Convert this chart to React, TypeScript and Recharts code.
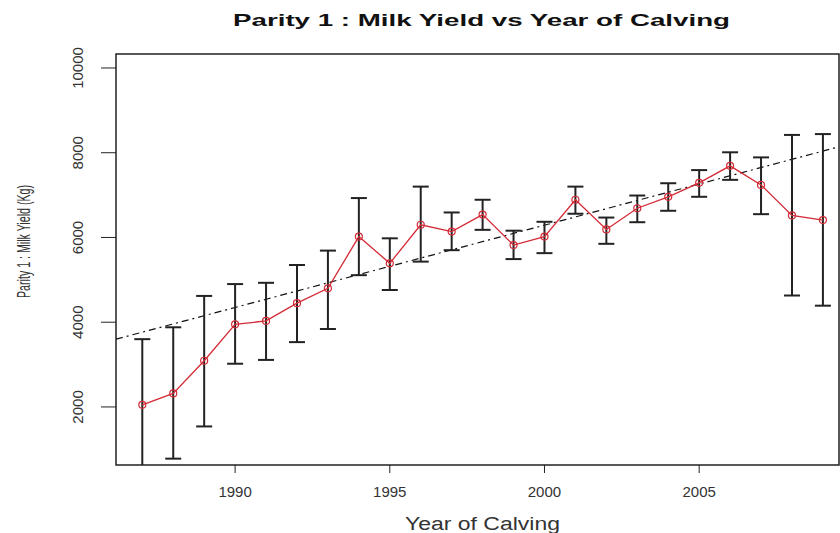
import { LineChart, Line, XAxis, YAxis, ErrorBar, ReferenceArea } from 'recharts'

const years = [1987, 1988, 1989, 1990, 1991, 1992, 1993, 1994, 1995, 1996, 1997, 1998, 1999, 2000, 2001, 2002, 2003, 2004, 2005, 2006, 2007, 2008, 2009]
const meanYield = [2050, 2320, 3090, 3950, 4030, 4450, 4800, 6020, 5390, 6300, 6140, 6540, 5820, 6020, 6890, 6190, 6690, 6960, 7290, 7690, 7240, 6520, 6410]
const lowerLimit = [500, 780, 1540, 3020, 3110, 3530, 3840, 5110, 4760, 5430, 5700, 6180, 5490, 5630, 6560, 5850, 6360, 6630, 6960, 7360, 6550, 4630, 4390]
const upperLimit = [3600, 3880, 4620, 4900, 4930, 5350, 5690, 6930, 5980, 7200, 6590, 6890, 6160, 6370, 7200, 6470, 6990, 7280, 7590, 8010, 7890, 8420, 8440]

// fitted trend, read at the left and right edges of the plot
const trendYears = [1986.15, 2009.52]
const trendYield = [3600, 8140]

const xTicks = [1990, 1995, 2000, 2005]
const yTicks = [2000, 4000, 6000, 8000, 10000]
const xDomain = [1986.15, 2009.52]
const yDomain = [630, 10330]

const rows = years.map((year, i) => ({
  year,
  yield: meanYield[i],
  err: [meanYield[i] - lowerLimit[i], upperLimit[i] - meanYield[i]],
}))
const trendRows = trendYears.map((year, i) => ({ year, trend: trendYield[i] }))

const font = '"Liberation Sans", Arial, sans-serif'

function YTick({ x, y, payload }: any) {
  return (
    <text x={x} y={y} transform={`rotate(-90 ${x} ${y})`} textAnchor="middle"
      fontSize={15} fill="#333" fontFamily={font}>
      {payload.value}
    </text>
  )
}

export default function App() {
  return (
    <div style={{ position: 'relative', width: 840, height: 533, background: '#fff' }}>
      <style>{'body{margin:0} .recharts-errorBar{clip-path:url(#plotClip)}'}</style>
      <LineChart width={840} height={533} data={rows} margin={{ top: 54, right: 1, left: 0, bottom: 0 }}>
        <XAxis dataKey="year" type="number" domain={xDomain} ticks={xTicks} allowDataOverflow
          height={68} tickSize={8} tickMargin={13} axisLine={false}
          tickLine={{ stroke: '#222' }} tick={{ fontSize: 15, fill: '#333', fontFamily: font }} />
        <YAxis type="number" domain={yDomain} ticks={yTicks} allowDataOverflow
          width={116} tickSize={15} tickMargin={18} axisLine={false}
          tickLine={{ stroke: '#222' }} tick={<YTick />} />
        <ReferenceArea x1={xDomain[0]} x2={xDomain[1]} y1={yDomain[0]} y2={yDomain[1]}
          fill="none" stroke="#222" strokeWidth={1.5} fillOpacity={0} ifOverflow="visible" />
        <Line data={trendRows} dataKey="trend" stroke="#111" strokeWidth={1.2}
          strokeDasharray="7 4 2 4" dot={false} isAnimationActive={false} />
        <Line dataKey="yield" stroke="#d42a35" strokeWidth={1.3}
          dot={{ r: 3.5, stroke: '#d42a35', strokeWidth: 1.2, fill: 'none' }}
          activeDot={false} isAnimationActive={false}>
          <ErrorBar dataKey="err" direction="y" width={8} stroke="#222" strokeWidth={2} isAnimationActive={false} />
        </Line>
      </LineChart>
      <svg width={840} height={533} style={{ position: 'absolute', left: 0, top: 0, pointerEvents: 'none' }}>
        <defs>
          <clipPath id="plotClip" clipPathUnits="userSpaceOnUse">
            <rect x={116} y={54} width={723} height={411} />
          </clipPath>
        </defs>
        <text x={233} y={26} textLength={497} lengthAdjust="spacingAndGlyphs"
          fontSize={17} fontWeight="bold" fill="#111" fontFamily={font}>
          Parity 1 : Milk Yield vs Year of Calving
        </text>
        <text x={405} y={530} textLength={155} lengthAdjust="spacingAndGlyphs"
          fontSize={18} fill="#333" fontFamily={font}>
          Year of Calving
        </text>
        <text x={30} y={298} transform="rotate(-90 30 298)" textLength={113} lengthAdjust="spacingAndGlyphs"
          fontSize={18} fill="#333" fontFamily={font}>
          Parity 1 : Milk Yield (Kg)
        </text>
      </svg>
    </div>
  )
}
